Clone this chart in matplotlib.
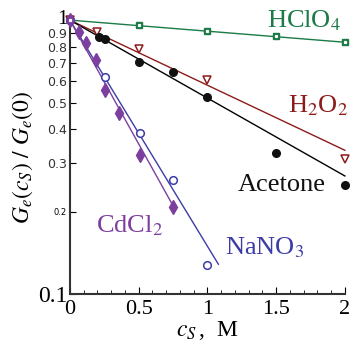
import numpy as np
import matplotlib
matplotlib.use('Agg')
import matplotlib.pyplot as plt
import matplotlib.transforms as mtransforms
from matplotlib.ticker import FixedLocator, MultipleLocator, NullLocator

plt.rcParams['font.family'] = ['Liberation Serif', 'DejaVu Serif']
plt.rcParams['mathtext.fontset'] = 'stix'

# -------------------------------------------------------------------------
# Data (c_S in M, normalised G_e)
# -------------------------------------------------------------------------
hclo4_x = [0.0, 0.5, 1.0, 1.5, 2.0]
hclo4_y = [1.0, 0.959, 0.912, 0.874, 0.831]

h2o2_x = [0.0, 0.2, 0.5, 1.0, 2.0]
h2o2_y = [1.0, 0.904, 0.784, 0.604, 0.311]

acetone_x = [0.0, 0.21, 0.255, 0.5, 0.75, 1.0, 1.5, 2.0]
acetone_y = [1.0, 0.867, 0.852, 0.703, 0.646, 0.524, 0.327, 0.25]

nano3_x = [0.0, 0.255, 0.51, 0.75, 1.0]
nano3_y = [1.0, 0.619, 0.387, 0.26, 0.128]

cdcl2_x = [0.0, 0.065, 0.116, 0.19, 0.255, 0.36, 0.51, 0.75]
cdcl2_y = [1.0, 0.904, 0.824, 0.715, 0.555, 0.458, 0.322, 0.208]

# exponential fits G = exp(-k c): decay constant and end of fitted line
fit_k = {"HClO4": 0.093, "H2O2": 0.547, "Acetone": 0.655,
         "NaNO3": 1.90, "CdCl2": 2.08}
fit_end = {"HClO4": 2.0, "H2O2": 2.0, "Acetone": 2.0,
           "NaNO3": 1.08, "CdCl2": 0.76}

green = "#1b7a45"
red = "#8c1c1c"
blue = "#3c3ca8"
purple = "#7d3f9e"

# -------------------------------------------------------------------------
# Plot
# -------------------------------------------------------------------------
fig = plt.figure(figsize=(3.53, 3.53), dpi=100)
ax = fig.add_axes([0.198, 0.167, 0.779, 0.776])
ax.set_yscale('log')

def fit_line(name, color):
    xs = np.linspace(0.0, fit_end[name], 50)
    ax.plot(xs, np.exp(-fit_k[name] * xs), color=color, lw=1.0,
            clip_on=False, zorder=2)

fit_line("HClO4", green)
fit_line("H2O2", red)
fit_line("Acetone", "black")
fit_line("NaNO3", blue)
fit_line("CdCl2", purple)

ax.plot(hclo4_x, hclo4_y, 's', ms=5, mfc=green, mec=green,
        clip_on=False, zorder=3)
ax.plot(hclo4_x, hclo4_y, 's', ms=1.3, mfc='white', mec='white',
        clip_on=False, zorder=4)
ax.plot(h2o2_x, h2o2_y, 'v', ms=6, mfc='white', mec=red, mew=1.1,
        clip_on=False, zorder=3)
ax.plot(acetone_x, acetone_y, 'o', ms=5.5, mfc='#111111', mec='#111111',
        clip_on=False, zorder=3)
ax.plot(nano3_x, nano3_y, 'o', ms=5.5, mfc='white', mec=blue, mew=1.1,
        clip_on=False, zorder=3)
ax.plot(cdcl2_x, cdcl2_y, 'd', ms=7, mfc=purple, mec=purple,
        clip_on=False, zorder=3)

ax.text(1.43, 0.943, r"HClO$_4$", color=green, fontsize=19, va='baseline')
ax.text(1.585, 0.462, r"H$_2$O$_2$", color=red, fontsize=19, va='baseline')
ax.text(1.22, 0.238, "Acetone", color='#111111', fontsize=19, va='baseline')
ax.text(0.19, 0.168, r"CdCl$_2$", color=purple, fontsize=19, va='baseline')
ax.text(1.127, 0.139, r"NaNO$_3$", color=blue, fontsize=19, va='baseline')

ax.set_xlim(0, 2.0)
ax.set_ylim(0.1, 1.0)

ax.spines['top'].set_visible(False)
ax.spines['right'].set_visible(False)
for s in ('left', 'bottom'):
    ax.spines[s].set_color('#333333')
    ax.spines[s].set_linewidth(1.5)

ax.xaxis.set_major_locator(FixedLocator([0, 0.5, 1, 1.5, 2]))
ax.set_xticklabels(["0", "0.5", "1", "1.5", "2"])
ax.xaxis.set_minor_locator(MultipleLocator(0.1))
ax.tick_params(axis='x', which='major', direction='in', length=5,
               labelsize=16, pad=4)
ax.tick_params(axis='x', which='minor', direction='in', length=3)

yt = [0.1, 0.2, 0.3, 0.4, 0.5, 0.6, 0.7, 0.8, 0.9, 1.0]
ylab = ["0.1", "0.2", "0.3", "0.4", "0.5", "0.6", "0.7", "0.8", "0.9", "1"]
ax.yaxis.set_major_locator(FixedLocator(yt))
ax.yaxis.set_minor_locator(NullLocator())
ax.set_yticklabels(ylab)
ax.tick_params(axis='y', which='major', direction='in', length=4, pad=2)
lift = mtransforms.ScaledTranslation(0, 2.5 / 72, fig.dpi_scale_trans)
for lab in ax.get_yticklabels():
    t = lab.get_text()
    if t == "0.1":
        lab.set_fontsize(17)
    elif t == "1":
        lab.set_fontsize(15)
        lab.set_transform(lab.get_transform() + lift)
    elif t == "0.2":
        lab.set_fontsize(6)
        lab.set_family('DejaVu Sans')
    else:
        lab.set_fontsize(9)
        lab.set_family('DejaVu Sans')
        lab.set_color('#333333')

ax.set_xlabel(r"$c_S\,$,  M", fontsize=17, labelpad=0)
ax.set_ylabel(r"$G_e(c_S)\ /\ G_e(0)$", fontsize=17, labelpad=2)

fig.savefig("out.png", dpi=100)
